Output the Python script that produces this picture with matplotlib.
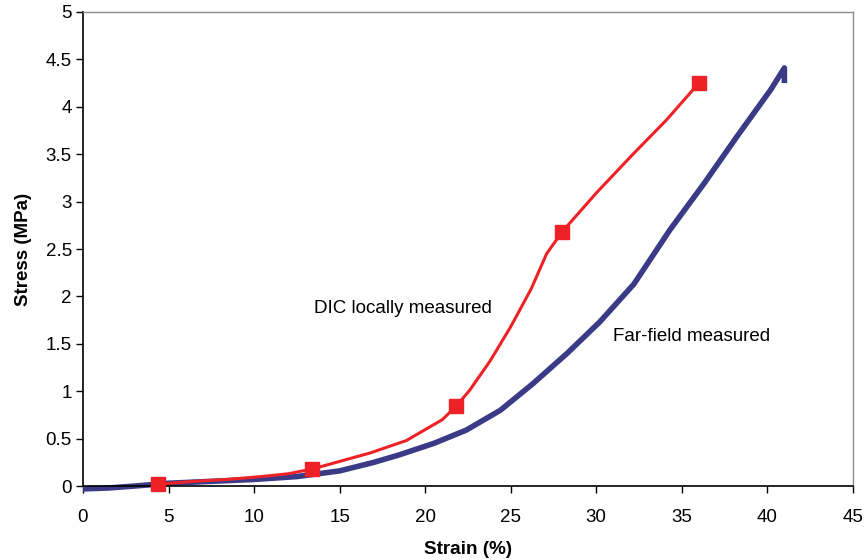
import numpy as np
import matplotlib.pyplot as plt

plt.rcParams['font.family'] = ['Liberation Sans', 'DejaVu Sans']

# DIC (local) measurement: smoothed curve and the measured points
dic_strain = [4.4, 6.5, 8.4, 10.4, 12.0, 13.4, 15.0, 16.8, 18.9, 21.0, 21.8,
              22.6, 23.8, 25.0, 26.2, 27.1, 28.0, 30.0, 32.2, 34.1, 36.0]
dic_stress = [0.02, 0.05, 0.07, 0.10, 0.13, 0.18, 0.26, 0.35, 0.48, 0.70, 0.84,
              1.01, 1.32, 1.68, 2.08, 2.45, 2.68, 3.09, 3.51, 3.86, 4.25]
pts_strain = [4.4, 13.4, 21.8, 28.0, 36.0]
pts_stress = [0.02, 0.18, 0.84, 2.68, 4.25]

# far-field (crosshead) measurement
ff_strain = [0.0, 1.5, 3.0, 5.0, 7.5, 10.0, 12.5, 15.0, 17.0, 18.5, 20.5,
             22.4, 24.4, 26.3, 28.3, 30.2, 32.2, 34.3, 36.3, 38.2, 40.2,
             41.0, 41.0]
ff_stress = [-0.03, -0.02, 0.0, 0.03, 0.05, 0.07, 0.10, 0.16, 0.25, 0.33, 0.45,
             0.59, 0.80, 1.08, 1.40, 1.73, 2.13, 2.70, 3.19, 3.68, 4.18,
             4.41, 4.25]

fig = plt.figure(figsize=(8.66, 5.6), dpi=100)
ax = fig.add_axes([0.0958, 0.132, 0.889, 0.8466])

ax.plot(ff_strain, ff_stress, color='#3a3a86', lw=4.0, solid_joinstyle='round',
        solid_capstyle='butt', zorder=2, clip_on=False)
ax.plot(dic_strain, dic_stress, color='#ee2226', lw=2.2, zorder=3)
ax.plot(pts_strain, pts_stress, 's', color='#ee2226', ms=10, zorder=4, clip_on=False)

ax.text(18.7, 1.87, 'DIC locally measured', fontsize=13.5, ha='center', va='center')
ax.text(31.0, 1.58, 'Far-field measured', fontsize=13.5, ha='left', va='center')

ax.set_xlim(0, 45)
ax.set_ylim(0, 5)
ax.set_xticks(np.arange(0, 46, 5))
ax.set_yticks(np.arange(0, 5.01, 0.5))
ax.set_yticklabels(['0', '0.5', '1', '1.5', '2', '2.5', '3', '3.5', '4', '4.5', '5'])
ax.tick_params(direction='out', length=5, width=1, labelsize=13.5)
ax.tick_params(axis='x', pad=11.5)
ax.tick_params(axis='y', pad=3)

for side in ['left', 'bottom']:
    ax.spines[side].set_color('black')
    ax.spines[side].set_linewidth(1.2)
for side in ['top', 'right']:
    ax.spines[side].set_color('#8c8c8c')
    ax.spines[side].set_linewidth(1.0)

ax.set_xlabel('Strain (%)', fontsize=13.6, fontweight='bold', labelpad=11)
ax.set_ylabel('Stress (MPa)', fontsize=13.5, fontweight='bold', labelpad=10)

fig.savefig('out.png', dpi=100)
